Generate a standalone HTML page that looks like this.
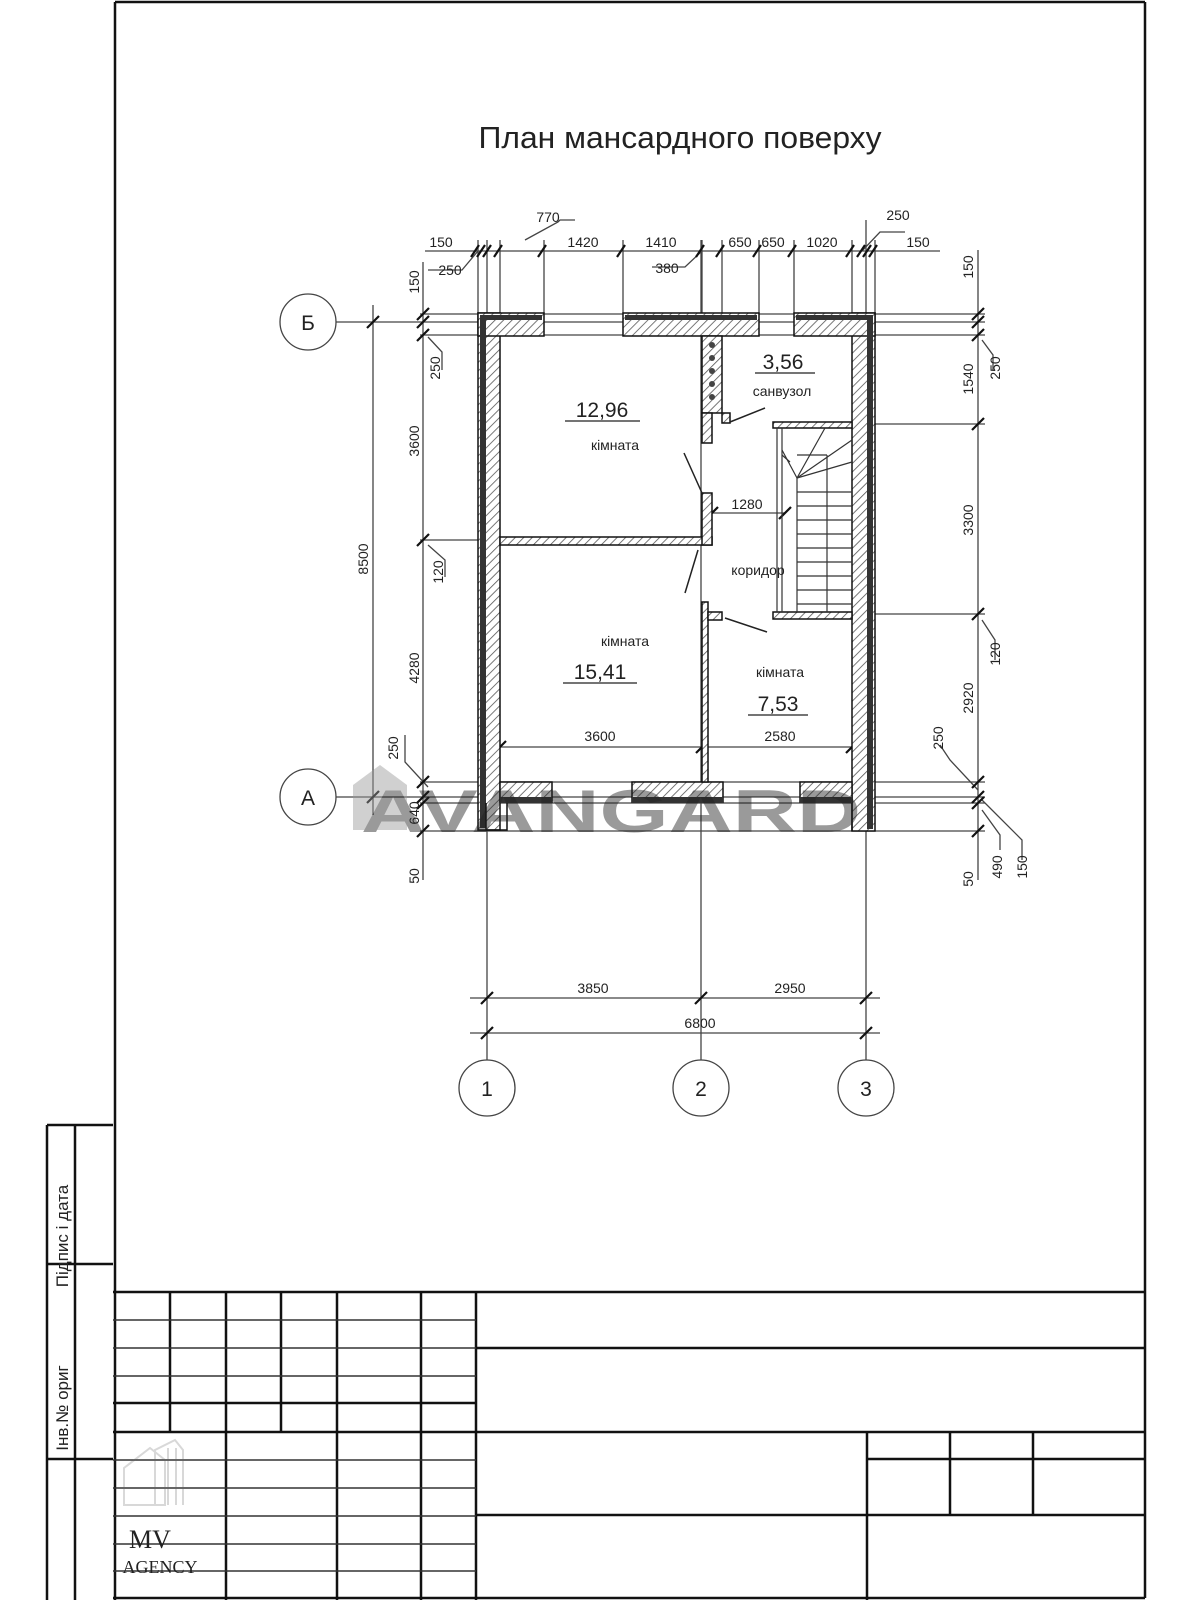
<!DOCTYPE html>
<html><head><meta charset="utf-8"><style>
html,body{margin:0;padding:0;background:#fff;}
svg{display:block;}
text{font-family:"Liberation Sans","DejaVu Sans",sans-serif;fill:#222;}
</style></head><body>
<svg width="1200" height="1600" viewBox="0 0 1200 1600" xmlns="http://www.w3.org/2000/svg">
<defs>
<pattern id="h" width="6" height="6" patternUnits="userSpaceOnUse" patternTransform="rotate(45)">
<rect width="6" height="6" fill="#fff"/><line x1="0" y1="0" x2="0" y2="6" stroke="#555" stroke-width="1.6"/>
</pattern>
</defs>
<!-- frame -->
<g stroke="#111" stroke-width="2.5" fill="none">
<line x1="115" y1="2" x2="1145" y2="2"/>
<line x1="115" y1="2" x2="115" y2="1600"/>
<line x1="1145" y1="2" x2="1145" y2="1598"/>
<line x1="113" y1="1598" x2="1145" y2="1598"/>
<!-- stamp column -->
<line x1="47" y1="1125" x2="113" y2="1125"/>
<line x1="47" y1="1125" x2="47" y2="1600"/>
<line x1="75" y1="1125" x2="75" y2="1600"/>
<line x1="47" y1="1264" x2="113" y2="1264"/>
<line x1="47" y1="1459" x2="113" y2="1459"/>
<!-- title block -->
<line x1="113" y1="1292" x2="1145" y2="1292"/>
<line x1="113" y1="1403" x2="476" y2="1403"/>
<line x1="113" y1="1432" x2="1145" y2="1432"/>
<line x1="476" y1="1348" x2="1145" y2="1348"/>
<line x1="476" y1="1515" x2="1145" y2="1515"/>
<line x1="867" y1="1459" x2="1145" y2="1459"/>
<line x1="476" y1="1292" x2="476" y2="1600"/>
<line x1="170" y1="1292" x2="170" y2="1432"/>
<line x1="281" y1="1292" x2="281" y2="1432"/>
<line x1="226" y1="1292" x2="226" y2="1600"/>
<line x1="337" y1="1292" x2="337" y2="1600"/>
<line x1="421" y1="1292" x2="421" y2="1600"/>
<line x1="867" y1="1432" x2="867" y2="1600"/>
<line x1="950" y1="1432" x2="950" y2="1515"/>
<line x1="1033" y1="1432" x2="1033" y2="1515"/>
</g>
<g stroke="#333" stroke-width="1.4">
<line x1="113" y1="1320" x2="476" y2="1320"/>
<line x1="113" y1="1348" x2="476" y2="1348"/>
<line x1="113" y1="1376" x2="476" y2="1376"/>
<line x1="113" y1="1460" x2="476" y2="1460"/>
<line x1="113" y1="1488" x2="476" y2="1488"/>
<line x1="113" y1="1516" x2="476" y2="1516"/>
<line x1="113" y1="1544" x2="476" y2="1544"/>
<line x1="113" y1="1571" x2="476" y2="1571"/>
</g>
<text transform="translate(68,1236) rotate(-90)" font-size="17" text-anchor="middle" fill="#333">Підпис і дата</text>
<text transform="translate(68,1408) rotate(-90)" font-size="17" text-anchor="middle" fill="#333">Інв.№ ориг</text>
<!-- MV agency watermark -->
<g opacity="0.25" stroke="#666" fill="none" stroke-width="2">
<path d="M124 1505 V1468 L150 1448 L165 1460 V1505 Z"/>
<path d="M155 1505 V1450 L175 1440 L183 1450 V1505"/>
<line x1="168" y1="1448" x2="168" y2="1505"/><line x1="176" y1="1448" x2="176" y2="1505"/>
</g>
<text x="150" y="1548" font-family="Liberation Serif" font-size="26" text-anchor="middle" fill="#ccc" style="font-family:'Liberation Serif',serif">MV</text>
<text x="160" y="1573" font-size="18" text-anchor="middle" fill="#ccc" style="font-family:'Liberation Serif',serif">AGENCY</text>

<!-- Title -->
<text x="680" y="148" font-size="31" text-anchor="middle" textLength="403" lengthAdjust="spacingAndGlyphs">План мансардного поверху</text>

<!-- grid lines -->
<g stroke="#444" stroke-width="1.3" fill="none">
<line x1="336" y1="322" x2="985" y2="322"/>
<line x1="336" y1="797" x2="985" y2="797"/>
<line x1="487" y1="240" x2="487" y2="1060"/>
<line x1="701" y1="240" x2="701" y2="1060"/>
<line x1="866" y1="220" x2="866" y2="1060"/>
<circle cx="308" cy="322" r="28"/>
<circle cx="308" cy="797" r="28"/>
<circle cx="487" cy="1088" r="28"/>
<circle cx="701" cy="1088" r="28"/>
<circle cx="866" cy="1088" r="28"/>
<!-- extension lines -->
<line x1="420" y1="314" x2="985" y2="314"/>
<line x1="420" y1="335" x2="985" y2="335"/>
<line x1="420" y1="540" x2="500" y2="540"/>
<line x1="852" y1="424" x2="985" y2="424"/>
<line x1="852" y1="614" x2="985" y2="614"/>
<line x1="420" y1="782" x2="985" y2="782"/>
<line x1="420" y1="803" x2="985" y2="803"/>
<line x1="420" y1="831" x2="985" y2="831"/>
<!-- top extension verticals -->
<line x1="478" y1="240" x2="478" y2="313"/>
<line x1="500" y1="240" x2="500" y2="313"/>
<line x1="544" y1="240" x2="544" y2="313"/>
<line x1="623" y1="240" x2="623" y2="313"/>
<line x1="702" y1="240" x2="702" y2="313"/>
<line x1="722" y1="240" x2="722" y2="313"/>
<line x1="759" y1="240" x2="759" y2="313"/>
<line x1="794" y1="240" x2="794" y2="313"/>
<line x1="852" y1="240" x2="852" y2="313"/>
<line x1="875" y1="240" x2="875" y2="313"/>
<!-- dimension lines -->
<line x1="425" y1="251" x2="940" y2="251"/>
<line x1="373" y1="305" x2="373" y2="815"/>
<line x1="423" y1="262" x2="423" y2="880"/>
<line x1="978" y1="250" x2="978" y2="880"/>
<line x1="470" y1="998" x2="880" y2="998"/>
<line x1="470" y1="1033" x2="880" y2="1033"/>
<line x1="500" y1="747" x2="852" y2="747"/>
<line x1="712" y1="513" x2="785" y2="513"/>
<!-- leaders -->
<polyline points="428,270 462,270 478,251"/>
<polyline points="525,240 558,222 560,220 575,220"/>
<polyline points="652,267 685,267 702,251"/>
<polyline points="862,251 880,232 905,232"/>
<polyline points="428,337 442,352 442,370"/>
<polyline points="428,545 445,560 445,577"/>
<polyline points="428,787 405,762 405,735"/>
<polyline points="982,340 993,355 993,370"/>
<polyline points="982,620 995,640 995,660"/>
<polyline points="978,790 950,760 940,745"/>
<polyline points="982,810 1000,835 1000,850"/>
<polyline points="982,800 1022,840 1022,860"/>
</g>
<!-- ticks -->
<g stroke="#111" stroke-width="2.2">
<path d="M471 257l8-12M477 257l8-12M483 257l8-12M494 257l8-12M538 257l8-12M617 257l8-12M696 257l8-12M716 257l8-12M753 257l8-12M788 257l8-12M846 257l8-12M857 257l8-12M863 257l8-12M869 257l8-12"/>
<path d="M367 328l12-12M367 803l12-12"/>
<path d="M417 320l12-12M417 328l12-12M417 341l12-12M417 546l12-12M417 788l12-12M417 803l12-12M417 809l12-12M417 837l12-12"/>
<path d="M972 320l12-12M972 328l12-12M972 341l12-12M972 430l12-12M972 620l12-12M972 788l12-12M972 803l12-12M972 809l12-12M972 837l12-12"/>
<path d="M481 1004l12-12M695 1004l12-12M860 1004l12-12M481 1039l12-12M860 1039l12-12"/>
<path d="M494 753l12-12M696 753l12-12M846 753l12-12M706 519l12-12M779 519l12-12"/>
</g>

<!-- walls -->
<g stroke="#111" stroke-width="1.5" fill="url(#h)">
<!-- left wall -->
<rect x="478" y="313" width="22" height="517"/>
<!-- right wall -->
<rect x="852" y="313" width="23" height="518"/>
<!-- top wall segments -->
<rect x="478" y="313" width="66" height="23"/>
<rect x="623" y="313" width="136" height="23"/>
<rect x="794" y="313" width="81" height="23"/>
<!-- bottom wall segments -->
<rect x="500" y="782" width="52" height="20"/>
<rect x="632" y="782" width="91" height="20"/>
<rect x="800" y="782" width="52" height="20"/>
<!-- sanuzol partition -->
<rect x="702" y="336" width="20" height="77"/>
<rect x="702" y="413" width="10" height="30"/>
<rect x="722" y="413" width="8" height="10"/>
<!-- room partition -->
<rect x="500" y="537" width="212" height="8"/>
<rect x="702" y="493" width="10" height="52"/>
<!-- lower partition -->
<rect x="702" y="602" width="6" height="180"/>
<rect x="708" y="612" width="14" height="8"/>
<!-- stair walls -->
<rect x="773" y="422" width="79" height="6"/>
<rect x="773" y="612" width="79" height="7"/>
</g>
<!-- dark bands -->
<g fill="#333">
<rect x="480" y="315" width="6" height="513"/>
<rect x="867" y="315" width="6" height="514"/>
<rect x="480" y="315" width="62" height="5"/>
<rect x="625" y="315" width="132" height="5"/>
<rect x="796" y="315" width="77" height="5"/>
<rect x="500" y="797" width="52" height="6"/>
<rect x="632" y="797" width="91" height="6"/>
<rect x="800" y="797" width="52" height="6"/>
</g>
<g stroke="#111" stroke-width="1.5" fill="none">
<polyline points="486,803 486,830 507,830 507,803"/>
<polyline points="852,803 852,831"/>
</g>
<!-- vent dots -->
<g fill="#444"><circle cx="712" cy="345" r="3"/><circle cx="712" cy="358" r="3"/><circle cx="712" cy="371" r="3"/><circle cx="712" cy="384" r="3"/><circle cx="712" cy="397" r="3"/></g>
<!-- stairs -->
<g stroke="#333" stroke-width="1.2" fill="none">
<line x1="777" y1="428" x2="777" y2="612"/>
<line x1="782" y1="428" x2="782" y2="612"/>
<line x1="797" y1="478" x2="797" y2="612"/>
<line x1="827" y1="455" x2="827" y2="612"/>
<line x1="797" y1="455" x2="827" y2="455"/>
<line x1="797" y1="478" x2="825" y2="428"/>
<line x1="797" y1="478" x2="852" y2="440"/>
<line x1="797" y1="478" x2="852" y2="462"/>
<line x1="782" y1="450" x2="797" y2="478"/>
<line x1="782" y1="455" x2="790" y2="462"/>
<line x1="797" y1="492" x2="852" y2="492"/>
<line x1="797" y1="506" x2="852" y2="506"/>
<line x1="797" y1="520" x2="852" y2="520"/>
<line x1="797" y1="534" x2="852" y2="534"/>
<line x1="797" y1="548" x2="852" y2="548"/>
<line x1="797" y1="562" x2="852" y2="562"/>
<line x1="797" y1="576" x2="852" y2="576"/>
<line x1="797" y1="590" x2="852" y2="590"/>
<line x1="797" y1="604" x2="852" y2="604"/>
</g>
<!-- doors -->
<g stroke="#222" stroke-width="1.5">
<line x1="684" y1="453" x2="702" y2="493"/>
<line x1="698" y1="550" x2="685" y2="593"/>
<line x1="725" y1="618" x2="767" y2="632"/>
<line x1="730" y1="422" x2="765" y2="408"/>
</g>
<!-- room labels -->
<g stroke="#222" stroke-width="1.3">
<line x1="565" y1="421" x2="640" y2="421"/>
<line x1="755" y1="373" x2="815" y2="373"/>
<line x1="563" y1="683" x2="637" y2="683"/>
<line x1="748" y1="715" x2="808" y2="715"/>
</g>
<g text-anchor="middle">
<text x="602" y="417" font-size="21">12,96</text>
<text x="615" y="450" font-size="14">кімната</text>
<text x="783" y="369" font-size="21">3,56</text>
<text x="782" y="396" font-size="14">санвузол</text>
<text x="758" y="575" font-size="14">коридор</text>
<text x="625" y="646" font-size="14">кімната</text>
<text x="600" y="679" font-size="21">15,41</text>
<text x="780" y="677" font-size="14">кімната</text>
<text x="778" y="711" font-size="21">7,53</text>
</g>
<!-- dim labels -->
<g font-size="14" text-anchor="middle">
<text x="600" y="741">3600</text>
<text x="780" y="741">2580</text>
<text x="747" y="509">1280</text>
<text x="441" y="247">150</text>
<text x="450" y="275">250</text>
<text x="548" y="222">770</text>
<text x="583" y="247">1420</text>
<text x="661" y="247">1410</text>
<text x="667" y="273">380</text>
<text x="740" y="247">650</text>
<text x="773" y="247">650</text>
<text x="822" y="247">1020</text>
<text x="898" y="220">250</text>
<text x="918" y="247">150</text>
<text x="593" y="993">3850</text>
<text x="790" y="993">2950</text>
<text x="700" y="1028">6800</text>
<text x="487" y="1096" font-size="21">1</text>
<text x="701" y="1096" font-size="21">2</text>
<text x="866" y="1096" font-size="21">3</text>
<text x="308" y="330" font-size="21">Б</text>
<text x="308" y="805" font-size="21">А</text>
</g>
<g font-size="14" text-anchor="middle">
<text transform="translate(419,282) rotate(-90)">150</text>
<text transform="translate(440,368) rotate(-90)">250</text>
<text transform="translate(419,441) rotate(-90)">3600</text>
<text transform="translate(443,572) rotate(-90)">120</text>
<text transform="translate(419,668) rotate(-90)">4280</text>
<text transform="translate(398,748) rotate(-90)">250</text>
<text transform="translate(419,813) rotate(-90)">640</text>
<text transform="translate(419,876) rotate(-90)">50</text>
<text transform="translate(368,559) rotate(-90)">8500</text>
<text transform="translate(973,267) rotate(-90)">150</text>
<text transform="translate(973,379) rotate(-90)">1540</text>
<text transform="translate(1000,368) rotate(-90)">250</text>
<text transform="translate(973,520) rotate(-90)">3300</text>
<text transform="translate(1000,654) rotate(-90)">120</text>
<text transform="translate(973,698) rotate(-90)">2920</text>
<text transform="translate(943,738) rotate(-90)">250</text>
<text transform="translate(973,879) rotate(-90)">50</text>
<text transform="translate(1002,867) rotate(-90)">490</text>
<text transform="translate(1027,867) rotate(-90)">150</text>
</g>
<!-- AVANGARD watermark -->
<g opacity="0.45">
<path d="M353 830 V785 L380 765 L407 785 V830 Z" fill="#999"/>
<text x="611" y="832" font-size="60" font-weight="bold" text-anchor="middle" fill="#999" textLength="500" lengthAdjust="spacingAndGlyphs">AVANGARD</text>
</g>
</svg>
</body></html>
